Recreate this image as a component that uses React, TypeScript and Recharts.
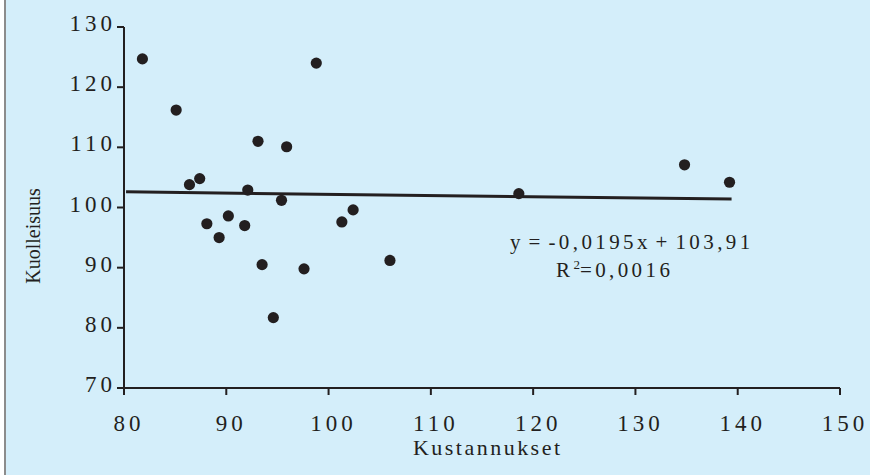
import { ScatterChart, Scatter, XAxis, YAxis, Customized } from 'recharts'

const costs = [
  81.8, 85.1, 86.4, 87.4, 88.1, 89.3, 90.2, 91.8, 92.1, 93.1, 93.5,
  94.6, 95.4, 95.9, 97.6, 98.8, 101.3, 102.4, 106.0, 118.6, 134.8, 139.2,
]
const mortality = [
  124.7, 116.2, 103.8, 104.8, 97.3, 95.0, 98.6, 97.0, 102.9, 111.0, 90.5,
  81.7, 101.2, 110.1, 89.8, 124.0, 97.6, 99.6, 91.2, 102.3, 107.1, 104.2,
]
// trend line ends as drawn in the source
const trendX = [80.2, 139.4]
const trendY = [102.6, 101.4]

const xTicks = [80, 90, 100, 110, 120, 130, 140, 150]
const yTicks = [70, 80, 90, 100, 110, 120, 130]

const points = costs.map((x, i) => ({ x, y: mortality[i] }))
const trend = trendX.map((x, i) => ({ x, y: trendY[i] }))

const INK = '#231f20'
const BG = '#d4eefa'
const SERIF = '"Liberation Serif", "Times New Roman", serif'

const XTick = ({ x, y, payload }: any) => (
  <text x={x + 5} y={y + 34} textAnchor="middle" fill={INK} fontSize={23} fontFamily={SERIF} letterSpacing={4}>
    {payload.value}
  </text>
)

const YTick = ({ x, y, payload }: any) => (
  <text x={x + 1} y={y + 4} textAnchor="end" fill={INK} fontSize={23} fontFamily={SERIF} letterSpacing={4}>
    {payload.value}
  </text>
)

const Dot = ({ cx, cy }: any) => <circle cx={cx} cy={cy} r={5.6} fill={INK} />

const Annotations = () => (
  <g fontFamily={SERIF} fill={INK}>
    <text x={510} y={249} fontSize={21} letterSpacing={3.4} wordSpacing={-4}>
      y = -0,0195x + 103,91
    </text>
    <text x={556} y={277} fontSize={21} letterSpacing={3.4}>
      <tspan>R</tspan>
      <tspan fontSize={13} dy={-8} letterSpacing={0}>2</tspan>
      <tspan dy={8}>=0,0016</tspan>
    </text>
    <text x={413} y={455} fontSize={22} textLength={147} lengthAdjust="spacing">
      Kustannukset
    </text>
    <text x={40} y={236} fontSize={20} textAnchor="middle" transform="rotate(-90 40 236)">
      Kuolleisuus
    </text>
  </g>
)

export default function App() {
  return (
    <div style={{ position: 'relative', width: 870, height: 475, background: BG }}>
      <style>{'body{margin:0}'}</style>
      <div style={{ position: 'absolute', left: 0, top: 0, width: 5, height: 475, background: '#fff' }} />
      <div style={{ position: 'absolute', left: 4, top: 0, width: 2, height: 475, background: '#8c8c8c' }} />
      <div style={{ position: 'absolute', left: 0, top: 0 }}>
        <ScatterChart width={870} height={475} margin={{ top: 27, right: 30, bottom: 27, left: 0 }}>
          <XAxis
            type="number"
            dataKey="x"
            domain={[80, 150]}
            ticks={xTicks}
            interval={0}
            allowDataOverflow
            height={60}
            tickSize={7}
            axisLine={{ stroke: INK, strokeWidth: 2 }}
            tickLine={{ stroke: INK, strokeWidth: 2 }}
            tick={<XTick />}
          />
          <YAxis
            type="number"
            dataKey="y"
            domain={[70, 130]}
            ticks={yTicks}
            interval={0}
            allowDataOverflow
            width={124}
            tickSize={7}
            axisLine={{ stroke: INK, strokeWidth: 2 }}
            tickLine={{ stroke: INK, strokeWidth: 2 }}
            tick={<YTick />}
          />
          <Scatter
            data={trend}
            line={{ stroke: INK, strokeWidth: 3 }}
            shape={() => <g />}
            isAnimationActive={false}
          />
          <Scatter data={points} shape={<Dot />} isAnimationActive={false} />
          <Customized component={Annotations} />
        </ScatterChart>
      </div>
    </div>
  )
}
